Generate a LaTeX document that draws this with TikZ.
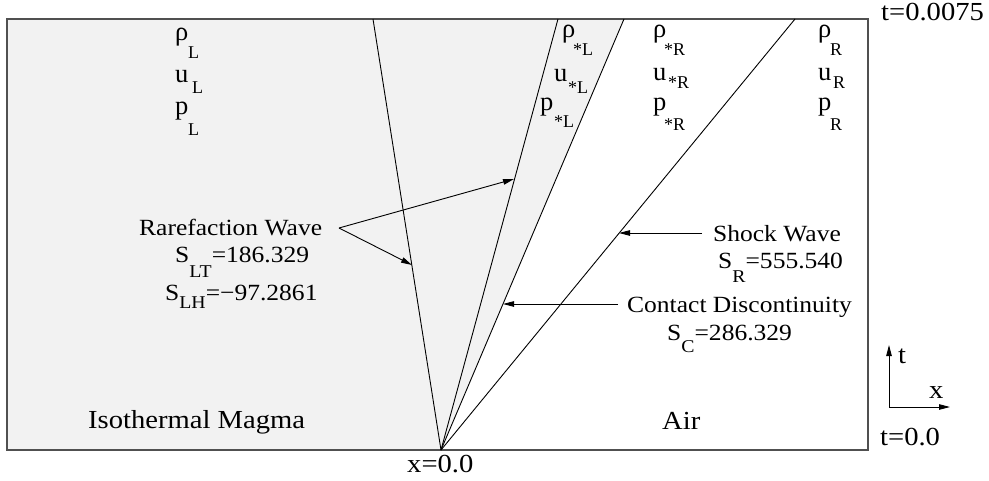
\documentclass[tikz,border=0pt]{standalone}
\usepackage{fontspec}
\usepackage{graphicx}
\setmainfont{Liberation Serif}
\usetikzlibrary{arrows.meta,calc}
\newcommand\fN{\fontsize{23.2}{26}\selectfont}
\newcommand\fL{\fontsize{26}{29}\selectfont}
\newcommand\fG{\fontsize{26.5}{28}\selectfont}
\newcommand\fS{\fontsize{18}{20}\selectfont}
\newcommand\W[1]{\scalebox{1.1}[1]{#1}}
\newcommand\subdrop[2]{\raisebox{-#1pt}{\fS #2}}
\definecolor{magma}{RGB}{242,242,242}
\definecolor{frame}{RGB}{80,80,80}
\begin{document}
\begin{tikzpicture}[x=1pt,y=-1pt,
  lbl/.style={anchor=base west,inner sep=0pt,font=\fN},
  big/.style={anchor=base west,inner sep=0pt,font=\fL},
  sym/.style={anchor=base west,inner sep=0pt,font=\fG},
  sub/.style={anchor=base west,inner sep=0pt,font=\fS},
  wave/.style={draw=black,line width=0.9pt},
  ptr/.style={draw=black,line width=0.9pt,-{Triangle[length=11pt,width=5.5pt]}}]
\useasboundingbox (0,0) rectangle (989,480);
% region
\coordinate (o) at (441,450);
\coordinate (hT) at (373,19);
\coordinate (tT) at (558,19);
\coordinate (cT) at (624,19);
\coordinate (sT) at (795,19);
\fill[magma] (7,19) -- (cT) -- (o) -- (7,450) -- cycle;
\draw[frame,line width=1.1pt] (7,19) rectangle (868,450);
\draw[wave] (o) -- (hT);
\draw[wave] (o) -- (tT);
\draw[wave] (o) -- (cT);
\draw[wave] (o) -- (sT);
% state labels
\node[sym] (rL) at (175,40) {ρ}; \node[sub] (rLs) at (188,58) {L};
\node[sym] (uL) at (175,82) {u}; \node[sub] (uLs) at (192,93) {L};
\node[sym] (pL) at (175,114) {p}; \node[sub] (pLs) at (188,135) {L};
\node[sym] (rsL) at (562,37) {ρ}; \node[sub] (rsLs) at (573,55) {*L};
\node[sym] (usL) at (554,81) {u}; \node[sub] (usLs) at (568,93) {*L};
\node[sym] (psL) at (540,110) {p}; \node[sub] (psLs) at (554,127) {*L};
\node[sym] (rsR) at (653,37) {ρ}; \node[sub] (rsRs) at (664,55) {*R};
\node[sym] (usR) at (653,80) {u}; \node[sub] (usRs) at (668,88) {*R};
\node[sym] (psR) at (653,110) {p}; \node[sub] (psRs) at (664,130) {*R};
\node[sym] (rR) at (818,37) {ρ}; \node[sub] (rRs) at (830,55) {R};
\node[sym] (uR) at (818,80) {u}; \node[sub] (uRs) at (833,88) {R};
\node[sym] (pR) at (818,110) {p}; \node[sub] (pRs) at (830,130) {R};
% annotations
\node[lbl] (rw) at (139,235) {\W{Rarefaction Wave}};
\node[lbl] (slt) at (175,262) {\W{S\subdrop{15}{LT}=186.329}};
\node[lbl] (slh) at (165,300) {\W{S\subdrop{8}{LH}=−97.2861}};
\node[lbl] (sw) at (713,241) {\W{Shock Wave}};
\node[lbl] (sr) at (718,268) {\W{S\subdrop{14}{R}=555.540}};
\node[lbl] (cd) at (627,312) {\W{Contact Discontinuity}};
\node[lbl] (sc) at (667,340) {\W{S\subdrop{12}{C}=286.329}};
\node[big] (air) at (662,429) {\W{Air}};
\node[big] (mag) at (88,428) {\W{Isothermal Magma}};
\node[big] (tend) at (881,20) {\W{t=0.0075}};
\node[big] (tzero) at (880,445) {\W{t=0.0}};
\node[big] (xzero) at (407,472) {\W{x=0.0}};
% pointers
\coordinate (rwS) at (339,228);
\coordinate (rwA) at (514,179);
\coordinate (rwB) at (412,265);
\draw[ptr] (rwS) -- (rwA);
\draw[ptr] (rwS) -- (rwB);
\coordinate (swS) at (702,233);
\coordinate (swE) at (619,233);
\draw[ptr] (swS) -- (swE);
\coordinate (cdS) at (618,304);
\coordinate (cdE) at (503,304);
\draw[ptr] (cdS) -- (cdE);
% axes
\coordinate (ax) at (889,407);
\coordinate (axt) at (889,345);
\coordinate (axx) at (950,407);
\draw[ptr] (ax) -- (axt);
\draw[ptr] (ax) -- (axx);
\node[big] (tlab) at (898,363) {\W{t}};
\node[big] (xlab) at (929,398) {\W{x}};
\end{tikzpicture}
\end{document}
